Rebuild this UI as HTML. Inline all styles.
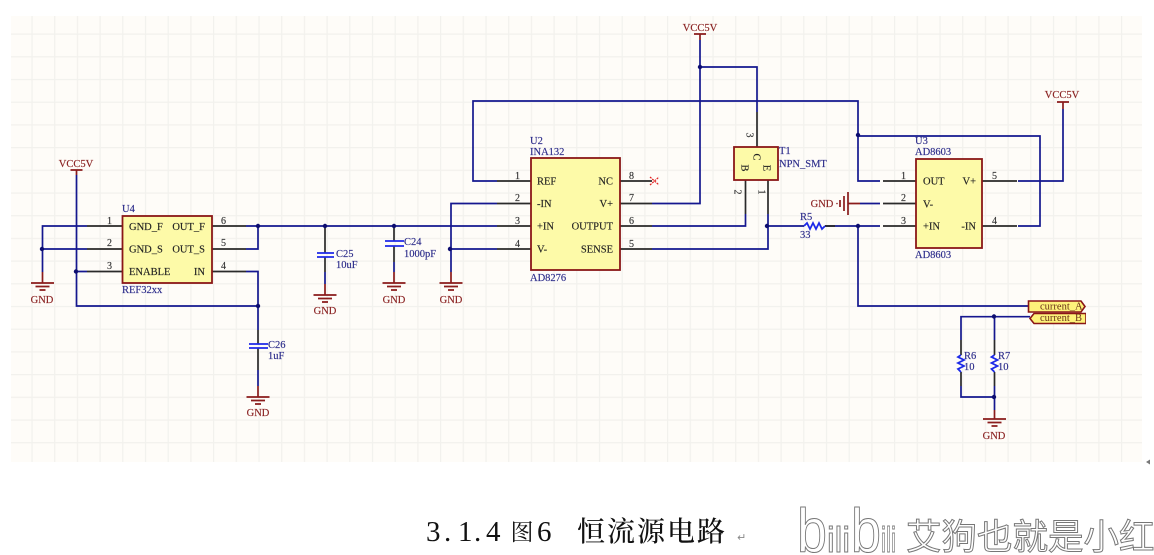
<!DOCTYPE html>
<html><head><meta charset="utf-8"><style>
html,body{margin:0;padding:0;background:#fff;width:1154px;height:555px;overflow:hidden}
svg{display:block;font-family:"Liberation Serif","Noto Serif CJK SC",serif}
.b{fill:none;stroke:#14198f;stroke-width:1.7}
.k{fill:none;stroke:#2a2a2a;stroke-width:1.7}
.r{fill:none;stroke:#8a1a1a;stroke-width:1.7}
.p{fill:none;stroke:#1f2ae8;stroke-width:1.8}
.d{fill:#0a0f70}
.box{fill:#fdfaa8;stroke:#8a1717;stroke-width:1.8}
.t{font-size:10.5px;fill:#222;stroke:#222;stroke-width:.15}
.n{font-size:10px;fill:#333;stroke:#333;stroke-width:.15}
.l{font-size:10.5px;fill:#2c2c8a;stroke:#2c2c8a;stroke-width:.15}
.g{font-size:10.5px;fill:#8a2222;text-anchor:middle;stroke:#8a2222;stroke-width:.15}
</style></head><body>
<svg width="1154" height="555" viewBox="0 0 1154 555" xmlns="http://www.w3.org/2000/svg">
<defs>
<pattern id="grid" x="8.7" y="10.8" width="22.7" height="22.7" patternUnits="userSpaceOnUse">
<rect width="22.7" height="22.7" fill="#fefcf8"/>
<path d="M0 0V22.7M0 0H22.7" stroke="#f2f1ed" stroke-width="2.4" fill="none"/>
</pattern>
<filter id="soft" x="0" y="0" width="100%" height="100%"><feGaussianBlur stdDeviation="0.3"/></filter>
<g id="gnd"><path class="r" d="M-11.500 0H11.500M-7 3.500H7M-3 7H3"/></g>
</defs>
<rect x="11" y="16" width="1131" height="446" fill="url(#grid)"/>
<path d="M1146 462l4-2.500v5z" fill="#777"/>

<g filter="url(#soft)">
<!-- blue wires -->
<path class="b" d="M87 226H42.500V272M87 249H42.500M87 271.500H76.500M76.500 175V306H258M246 226H497M258 226V249H246M246 271.500H258V330M325 226V228M394 226V228M258 370V386M325 272V284M394 262V272"/>
<path class="b" d="M497 181H473V101H858V181H880M858 136H1040V226H1018M497 203.500H451V272M497 249H451"/>
<path class="b" d="M652 203.500H700V40M700 67H757V112M652 226H745.500V214M652 249H768V214M767 226H804M825 226H880M858 226V306H1028M860 203.500H880"/>
<path class="b" d="M1018 181H1063V109"/>
<path class="b" d="M1030 316.700H961V340M994.500 316.700V340M961 386V397H994.500M994.500 386V410"/>

<!-- black pin segments -->
<path class="k" d="M87 226H122M87 249H122M87 271.500H122M212 226H246M212 249H246M212 271.500H246"/>
<path class="k" d="M497 181H531M497 203.500H531M497 226H531M497 249H531M620 181H652M620 203.500H652M620 226H652M620 249H652"/>
<path class="k" d="M757 112V147M745.500 180V214M768 180V214"/>
<path class="k" d="M883 181H916M883 203.500H916M883 226H916M982 181H1017M982 226H1017M825 226H835"/>
<path class="k" d="M258 330V344M258 348V370M325 228V253M325 257V272M394 228V241M394 246V262"/>
<path class="k" d="M961 340V355M961 372V386M994.500 340V355M994.500 372V386"/>

<!-- red stubs -->
<path class="r" d="M42.500 272V283M76.500 170V175M70.500 170H82.500M700 34V40M694 34H706M1063 102V109M1057 102H1069M258 386V397M325 284V295M394 272V283M451 272V283M994.500 410V419M848 203.500H860"/>
<use href="#gnd" x="42.500" y="283"/><use href="#gnd" x="258" y="397"/><use href="#gnd" x="325" y="295"/><use href="#gnd" x="394" y="283"/><use href="#gnd" x="451" y="283"/><use href="#gnd" x="994.500" y="419"/>
<path class="r" d="M848 192V215M844 196V211M840 200V207"/>

<!-- capacitors -->
<path class="p" d="M249 344H268M249 348H268M317 253H334M317 257H334M385 241H404M385 246H404"/>
<!-- resistors -->
<path class="p" d="M804 226l3-3 3 6 3-6 3 6 3-6 3 6 3-3"/>
<path class="p" d="M961 355l-3 2 6 3-6 3 6 3-6 3 3 3M994.500 355l-3 2 6 3-6 3 6 3-6 3 3 3"/>

<!-- junctions -->
<g class="d"><circle cx="42" cy="249" r="2.200"/><circle cx="76" cy="271.500" r="2.200"/><circle cx="258" cy="226" r="2.200"/><circle cx="258" cy="306" r="2.200"/><circle cx="325" cy="226" r="2.200"/><circle cx="394" cy="226" r="2.200"/><circle cx="450" cy="249" r="2.200"/><circle cx="700" cy="67" r="2.200"/><circle cx="858" cy="135" r="2.200"/><circle cx="767" cy="226" r="2.200"/><circle cx="858" cy="226" r="2.200"/><circle cx="994" cy="316.500" r="2.200"/><circle cx="994" cy="397" r="2.200"/></g>

<!-- NC X -->
<path d="M650 177L659 185M650 185L659 177" stroke="#e02020" stroke-width="1.200" stroke-dasharray="2 1" fill="none"/>

<!-- components -->
<rect class="box" x="122.500" y="216" width="89.500" height="67"/>
<rect class="box" x="531" y="158" width="89" height="112"/>
<rect class="box" x="734" y="147" width="44" height="33"/>
<rect class="box" x="916" y="159" width="66" height="89"/>

<!-- U4 text -->
<text class="l" x="122" y="212">U4</text><text class="l" x="122" y="293">REF32xx</text>
<text class="t" x="129" y="230">GND_F</text><text class="t" x="129" y="252.500">GND_S</text><text class="t" x="129" y="275">ENABLE</text>
<text class="t" x="205" y="230" text-anchor="end">OUT_F</text><text class="t" x="205" y="252.500" text-anchor="end">OUT_S</text><text class="t" x="205" y="275" text-anchor="end">IN</text>
<text class="n" x="107" y="224">1</text><text class="n" x="107" y="246">2</text><text class="n" x="107" y="269">3</text>
<text class="n" x="221" y="224">6</text><text class="n" x="221" y="246">5</text><text class="n" x="221" y="269">4</text>

<!-- U2 text -->
<text class="l" x="530" y="144">U2</text><text class="l" x="530" y="155">INA132</text><text class="l" x="530" y="281">AD8276</text>
<text class="t" x="537" y="184.500">REF</text><text class="t" x="537" y="207">-IN</text><text class="t" x="537" y="229.500">+IN</text><text class="t" x="537" y="252.500">V-</text>
<text class="t" x="613" y="184.500" text-anchor="end">NC</text><text class="t" x="613" y="207" text-anchor="end">V+</text><text class="t" x="613" y="229.500" text-anchor="end">OUTPUT</text><text class="t" x="613" y="252.500" text-anchor="end">SENSE</text>
<text class="n" x="515" y="179">1</text><text class="n" x="515" y="201">2</text><text class="n" x="515" y="224">3</text><text class="n" x="515" y="247">4</text>
<text class="n" x="629" y="179">8</text><text class="n" x="629" y="201">7</text><text class="n" x="629" y="224">6</text><text class="n" x="629" y="247">5</text>

<!-- T1 -->
<text class="l" x="779" y="154">T1</text><text class="l" x="779" y="167">NPN_SMT</text>
<text class="t" transform="translate(753.500 157) rotate(90)" text-anchor="middle">C</text>
<text class="t" transform="translate(741.500 168) rotate(90)" text-anchor="middle">B</text>
<text class="t" transform="translate(763.500 168) rotate(90)" text-anchor="middle">E</text>
<text class="n" transform="translate(746.500 135) rotate(90)" text-anchor="middle">3</text>
<text class="n" transform="translate(734.500 192) rotate(90)" text-anchor="middle">2</text>
<text class="n" transform="translate(758.500 192) rotate(90)" text-anchor="middle">1</text>

<!-- U3 -->
<text class="l" x="915" y="144">U3</text><text class="l" x="915" y="155">AD8603</text><text class="l" x="915" y="258">AD8603</text>
<text class="t" x="923" y="184.500">OUT</text><text class="t" x="923" y="207.500">V-</text><text class="t" x="923" y="229.500">+IN</text>
<text class="t" x="976" y="184.500" text-anchor="end">V+</text><text class="t" x="976" y="229.500" text-anchor="end">-IN</text>
<text class="n" x="901" y="179">1</text><text class="n" x="901" y="201">2</text><text class="n" x="901" y="224">3</text>
<text class="n" x="992" y="179">5</text><text class="n" x="992" y="224">4</text>

<!-- passive labels -->
<text class="l" x="800" y="220">R5</text><text class="l" x="800" y="238">33</text>
<text class="l" x="336" y="257">C25</text><text class="l" x="336" y="268">10uF</text>
<text class="l" x="404" y="245">C24</text><text class="l" x="404" y="257">1000pF</text>
<text class="l" x="268" y="348">C26</text><text class="l" x="268" y="359">1uF</text>
<text class="l" x="964" y="359">R6</text><text class="l" x="964" y="370">10</text>
<text class="l" x="998" y="359">R7</text><text class="l" x="998" y="370">10</text>

<!-- power labels -->
<text class="g" x="76" y="167">VCC5V</text><text class="g" x="700" y="31">VCC5V</text><text class="g" x="1062" y="98">VCC5V</text>
<text class="g" x="42" y="303">GND</text><text class="g" x="258" y="416">GND</text><text class="g" x="325" y="314">GND</text><text class="g" x="394" y="303">GND</text><text class="g" x="451" y="303">GND</text><text class="g" x="994" y="439">GND</text>
<text class="g" x="822" y="207">GND</text>
<circle cx="837" cy="203.500" r="0.800" fill="#8a2222"/>

<!-- ports -->
<path d="M1028.500 301H1081L1085 306.500L1081 312H1028.500Z" fill="#fdf27a" stroke="#8a1717" stroke-width="1.600"/>
<path d="M1086 313.500H1034L1030 318.500L1034 323.500H1086Z" fill="#fdf27a" stroke="#8a1717" stroke-width="1.600"/>
<text x="1040" y="309.500" font-size="10.500" fill="#6a3018">current_A</text>
<text x="1040" y="321" font-size="10.500" fill="#6a3018">current_B</text>
</g>

<!-- caption -->
<text y="541" font-size="29" fill="#111" font-family="'Liberation Serif',serif" x="426 444 458 474 486">3.1.4</text>
<text y="540" font-size="23" fill="#111" font-family="'Noto Serif CJK SC',serif" x="510.500">图</text>
<text y="541" font-size="29" fill="#111" font-family="'Liberation Serif',serif" x="537">6</text>
<text y="541" font-size="28" fill="#111" font-weight="500" font-family="'Noto Serif CJK SC',serif" x="577 607 637 667 697">恒流源电路</text>
<text x="737" y="541" font-size="11" fill="#888" font-family="'DejaVu Sans',sans-serif">↵</text>

<!-- watermark -->
<g font-family="'Liberation Sans',sans-serif" fill="#fff" stroke="#777" stroke-width="1">
<text x="797" y="552" font-size="62" textLength="30" lengthAdjust="spacingAndGlyphs">b</text>
<text x="827" y="552" font-size="36" textLength="23" lengthAdjust="spacingAndGlyphs">ili</text>
<text x="851" y="552" font-size="62" textLength="30" lengthAdjust="spacingAndGlyphs">b</text>
<text x="881" y="552" font-size="36" textLength="15" lengthAdjust="spacingAndGlyphs">ili</text>
</g>
<text x="906" y="549" font-size="35.500" font-family="'Noto Sans CJK SC',sans-serif" fill="#fff" stroke="#777" stroke-width="1">艾狗也就是小红</text>
</svg>
</body></html>
